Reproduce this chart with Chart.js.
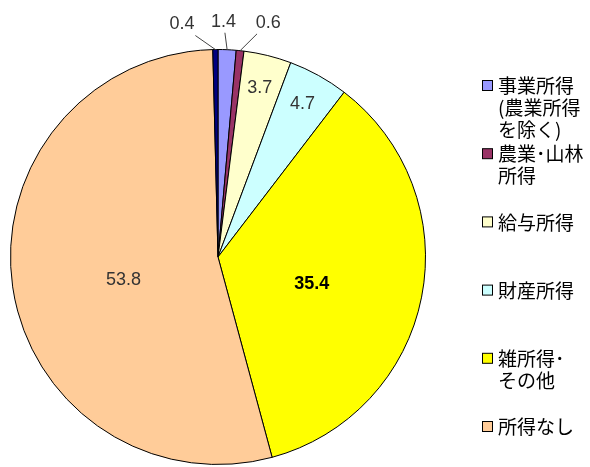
<!DOCTYPE html>
<html>
<head>
<meta charset="utf-8">
<script src="https://cdn.jsdelivr.net/npm/chart.js@4.4.1/dist/chart.umd.min.js"></script>
<style>
  html, body { margin: 0; padding: 0; background: #fff; }
  #wrap { width: 590px; height: 467px; }
</style>
</head>
<body>
<div id="wrap"><canvas id="grafico" width="590" height="467"></canvas></div>
<script>
const categories = [
  ["事業所得", "(農業所得", "を除く)"],
  ["農業･山林", "所得"],
  ["給与所得"],
  ["財産所得"],
  ["雑所得･", "その他"],
  ["所得なし"],
  ["不詳"]
];
const values = [1.4, 0.6, 3.7, 4.7, 35.4, 53.8, 0.4];
const colors = ['#9999FF', '#993366', '#FFFFCC', '#CCFFFF', '#FFFF00', '#FFCC99', '#000080'];
const legendCount = 6; // last slice has no legend entry

// outside label horizontal shifts for the thin slices (keeps them apart)
const outsideShift = { 0: -5, 1: 25, 6: -33 };

const labelPlugin = {
  id: 'sliceLabels',
  afterDatasetsDraw(chart) {
    const ctx = chart.ctx;
    const meta = chart.getDatasetMeta(0);
    ctx.save();
    ctx.textAlign = 'center';
    ctx.textBaseline = 'middle';
    meta.data.forEach((arc, i) => {
      const p = arc.getProps(['x', 'y', 'startAngle', 'endAngle', 'outerRadius'], true);
      const mid = (p.startAngle + p.endAngle) / 2;
      const v = values[i];
      const txt = v.toFixed(1);
      if (v < 2) {
        const ex = p.x + Math.cos(mid) * p.outerRadius;
        const ey = p.y + Math.sin(mid) * p.outerRadius;
        const tx = p.x + Math.cos(mid) * (p.outerRadius + 30) + (outsideShift[i] || 0);
        const ty = p.y + Math.sin(mid) * (p.outerRadius + 30) + (i === 6 ? 5 : 2);
        ctx.strokeStyle = '#444';
        ctx.lineWidth = 1;
        ctx.beginPath();
        ctx.moveTo(tx + (ex - tx) * 0.4, ty + 11);
        ctx.lineTo(ex, ey);
        ctx.stroke();
        ctx.fillStyle = '#333';
        ctx.font = '18px "Liberation Sans", Arial, sans-serif';
        ctx.fillText(txt, tx, ty);
      } else {
        const r = v > 20 ? 0.46 : 0.84;
        const tx = p.x + Math.cos(mid) * p.outerRadius * r;
        const ty = p.y + Math.sin(mid) * p.outerRadius * r + (v > 20 ? 9 : 0);
        if (v === 35.4) {
          ctx.fillStyle = '#000';
          ctx.font = 'bold 18px "Liberation Sans", Arial, sans-serif';
        } else {
          ctx.fillStyle = '#333';
          ctx.font = '18px "Liberation Sans", Arial, sans-serif';
        }
        ctx.fillText(txt, tx, ty);
      }
    });
    ctx.restore();
  }
};

const legendPlugin = {
  id: 'sideLegend',
  afterDraw(chart) {
    const ctx = chart.ctx;
    ctx.save();
    ctx.textAlign = 'left';
    ctx.textBaseline = 'middle';
    ctx.font = '19px "Noto Sans CJK JP", sans-serif';
    for (let i = 0; i < legendCount; i++) {
      const y0 = 86 + i * 68.2;
      ctx.fillStyle = colors[i];
      ctx.fillRect(482.5, y0 - 5.5, 10, 10);
      ctx.strokeStyle = '#000';
      ctx.lineWidth = 1;
      ctx.strokeRect(482.5, y0 - 5.5, 10, 10);
      ctx.fillStyle = '#000';
      categories[i].forEach((line, k) => {
        ctx.fillText(line, 498, y0 + k * 22);
      });
    }
    ctx.restore();
  }
};

new Chart(document.getElementById('grafico'), {
  type: 'pie',
  data: {
    labels: categories.map(c => c.join('')),
    datasets: [{
      data: values,
      backgroundColor: colors,
      borderColor: '#000',
      borderWidth: 1
    }]
  },
  options: {
    responsive: false,
    animation: false,
    layout: { padding: { left: 10, right: 164, top: 49, bottom: 2 } },
    plugins: {
      legend: { display: false },
      tooltip: { enabled: false }
    }
  },
  plugins: [labelPlugin, legendPlugin]
});
</script>
</body>
</html>
